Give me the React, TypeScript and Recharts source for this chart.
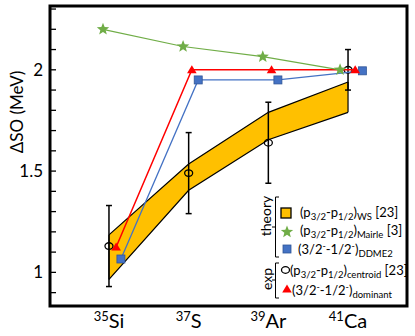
import React from 'react'
import {
  ComposedChart,
  XAxis,
  YAxis,
  Area,
  Scatter,
  ErrorBar,
  ReferenceArea,
  ReferenceLine,
} from 'recharts'

// nuclides on the x axis (index 0..3)
const masses = ['35', '37', '39', '41']
const elements = ['Si', 'S', 'Ar', 'Ca']
const nuclideX = [0, 1, 2, 3]

// theory: (p3/2-p1/2) WS band [23]
const wsLower = [0.965, 1.405, 1.655, 1.79]
const wsUpper = [1.185, 1.535, 1.79, 1.94]

// theory: Mairle [3]
const mairleX = [-0.075, 0.93, 1.93, 2.9]
const mairle = [2.2, 2.115, 2.065, 2.0]

// theory: DDME2
const ddme2X = [0.15, 1.12, 2.12, 3.18]
const ddme2 = [1.066, 1.95, 1.95, 1.995]

// exp: centroid [23] with errors
const centroid = [1.13, 1.49, 1.64, 2.0]
const centroidErr = [0.2, 0.2, 0.2, 0.1]

// exp: dominant
const dominantX = [0.09, 1.04, 2.04, 3.09]
const dominant = [1.125, 2.0, 2.0, 2.0]

const yTicks = [0.9, 1, 1.1, 1.2, 1.3, 1.4, 1.5, 1.6, 1.7, 1.8, 1.9, 2, 2.1, 2.2, 2.3]
const yLabels = [1, 1.5, 2]
const xTickMarks = [0, 1, 1.7, 2.7]

const X_DOMAIN: [number, number] = [-0.74, 3.74]
const Y_DOMAIN: [number, number] = [0.834, 2.315]
const FONT = 'Lato, "Open Sans", sans-serif'

const GREEN = '#70AD47'
const RED = '#FF0000'
const BLUE = '#4472C4'
const GOLD = '#FFC000'

const bandRows = nuclideX.map((x, i) => ({ x, range: [wsLower[i], wsUpper[i]] }))
const mairleRows = mairleX.map((x, i) => ({ x, y: mairle[i] }))
const ddme2Rows = ddme2X.map((x, i) => ({ x, y: ddme2[i] }))
const dominantRows = dominantX.map((x, i) => ({ x, y: dominant[i] }))
const centroidRows = nuclideX.map((x, i) => ({ x, y: centroid[i], err: centroidErr[i] }))

function starPoints(cx: number, cy: number, R: number, r: number) {
  const pts: string[] = []
  for (let k = 0; k < 10; k++) {
    const a = -Math.PI / 2 + (k * Math.PI) / 5
    const rad = k % 2 === 0 ? R : r
    pts.push(`${cx + rad * Math.cos(a)},${cy + rad * Math.sin(a)}`)
  }
  return pts.join(' ')
}

const Star = (p: any) => <polygon points={starPoints(p.cx, p.cy, 6.5, 2.8)} fill={GREEN} />
const Square = (p: any) => (
  <rect x={p.cx - 4} y={p.cy - 4} width={8} height={8} fill={BLUE} stroke='#2F5597' strokeWidth={0.8} />
)
const Triangle = (p: any) => (
  <polygon points={`${p.cx},${p.cy - 4.5} ${p.cx + 4.8},${p.cy + 3.5} ${p.cx - 4.8},${p.cy + 3.5}`} fill={RED} />
)
const Ring = (p: any) => (
  <ellipse cx={p.cx} cy={p.cy} rx={4} ry={3.3} fill='none' stroke='#000' strokeWidth={1.3} />
)

const NuclideTick = (p: any) => {
  const i = nuclideX.indexOf(p.payload.value)
  return (
    <text x={p.x} y={p.y + 14} textAnchor='middle' fontFamily={FONT} fill='#000'>
      <tspan fontSize={13} dy={-7}>{masses[i]}</tspan>
      <tspan fontSize={20} dy={7}>{elements[i]}</tspan>
    </text>
  )
}

const YTitle = () => (
  <text
    transform='translate(16.5,112) rotate(-90)'
    textAnchor='middle'
    dominantBaseline='central'
    fontFamily={FONT}
    fontSize={17}
    fill='#000'
  >
    ΔSO (MeV)
  </text>
)

const sub = (t: string) => (
  <tspan fontSize={9.5} dy={2.5}>
    {t}
  </tspan>
)
const back = (t: string) => <tspan dy={-2.5}>{t}</tspan>

function LegendBox() {
  const txt = { fontFamily: FONT, fontSize: 13, fill: '#000' }
  return (
    <svg width={415} height={336} style={{ position: 'absolute', left: 0, top: 0, pointerEvents: 'none' }}>
      <text transform='translate(265,216) rotate(-90)' textAnchor='middle' dominantBaseline='central' {...txt} fontSize={14}>
        theory
      </text>
      <path d='M279,197 H275.5 V257 H279 M275.5,227 H272' fill='none' stroke='#000' strokeWidth={1} />
      <text transform='translate(266,279) rotate(-90)' textAnchor='middle' dominantBaseline='central' {...txt} fontSize={14}>
        exp
      </text>
      <path d='M279,263 H275.5 V298 H279 M275.5,280 H272' fill='none' stroke='#000' strokeWidth={1} />

      <rect x={281} y={208} width={10} height={10} fill={GOLD} stroke='#000' strokeWidth={1.3} />
      <text x={300} y={217} {...txt}>
        (p{sub('3/2')}{back('-p')}{sub('1/2')}{back(')')}{sub('WS')}{back(' [23]')}
      </text>

      <Star cx={287} cy={232} />
      <text x={300} y={235} {...txt}>
        (p{sub('3/2')}{back('-p')}{sub('1/2')}{back(')')}{sub('Mairle')}{back(' [3]')}
      </text>

      <Square cx={287} cy={249} />
      <text x={298} y={254} {...txt}>
        (3/2<tspan fontSize={9} dy={-5}>-</tspan>
        <tspan dy={5}>-1/2</tspan>
        <tspan fontSize={9} dy={-5}>-</tspan>
        <tspan dy={5}>)</tspan>
        {sub('DDME2')}
      </text>

      <Ring cx={285.5} cy={270} />
      <text x={290} y={275} {...txt}>
        (p{sub('3/2')}{back('-p')}{sub('1/2')}{back(')')}{sub('centroid')}{back(' [23]')}
      </text>

      <Triangle cx={287} cy={289} />
      <text x={292} y={295} {...txt}>
        (3/2<tspan fontSize={9} dy={-5}>-</tspan>
        <tspan dy={5}>-1/2</tspan>
        <tspan fontSize={9} dy={-5}>-</tspan>
        <tspan dy={5}>)</tspan>
        {sub('dominant')}
      </text>
    </svg>
  )
}

export default function App() {
  return (
    <div style={{ position: 'absolute', left: 0, top: 0, width: 415, height: 336, background: '#fff' }}>
      <ComposedChart
        width={415}
        height={336}
        data={bandRows}
        margin={{ top: 6, right: 8, left: 0, bottom: 0 }}
      >
        <XAxis
          xAxisId='marks'
          dataKey='x'
          type='number'
          domain={X_DOMAIN}
          allowDataOverflow
          ticks={xTickMarks}
          mirror
          height={0}
          axisLine={false}
          tickSize={8}
          tickLine={{ stroke: '#000', strokeWidth: 1.3 }}
          tickFormatter={() => ''}
        />
        <XAxis
          xAxisId='cat'
          dataKey='x'
          type='number'
          domain={X_DOMAIN}
          allowDataOverflow
          ticks={nuclideX}
          height={30}
          axisLine={false}
          tickLine={false}
          tick={<NuclideTick />}
        />
        <YAxis
          dataKey='y'
          type='number'
          domain={Y_DOMAIN}
          allowDataOverflow
          ticks={yTicks}
          interval={0}
          width={50}
          axisLine={false}
          tickSize={-6}
          tickMargin={13}
          tickLine={{ stroke: '#000', strokeWidth: 1.3 }}
          tick={{ fill: '#000', fontSize: 17, fontFamily: FONT }}
          tickFormatter={(v: number) => (yLabels.includes(v) ? String(v) : '')}
          label={<YTitle />}
        />

        <Area
          xAxisId='cat'
          dataKey='range'
          type='linear'
          fill={GOLD}
          fillOpacity={1}
          stroke='#000'
          strokeWidth={1.2}
          dot={false}
          activeDot={false}
          isAnimationActive={false}
        />
        {[0, nuclideX.length - 1].map((i) => (
          <ReferenceLine
            key={i}
            xAxisId='cat'
            segment={[
              { x: nuclideX[i], y: wsLower[i] },
              { x: nuclideX[i], y: wsUpper[i] },
            ]}
            stroke='#000'
            strokeWidth={1.2}
          />
        ))}

        <Scatter
          xAxisId='cat'
          data={centroidRows}
          dataKey='y'
          shape={<Ring />}
          isAnimationActive={false}
        >
          <ErrorBar dataKey='err' direction='y' width={3} stroke='#000' strokeWidth={1.5} />
        </Scatter>
        <Scatter
          xAxisId='cat'
          data={ddme2Rows}
          dataKey='y'
          line={{ stroke: BLUE, strokeWidth: 1.3 }}
          shape={<Square />}
          isAnimationActive={false}
        />
        <Scatter
          xAxisId='cat'
          data={dominantRows}
          dataKey='y'
          line={{ stroke: RED, strokeWidth: 1.5 }}
          shape={<Triangle />}
          isAnimationActive={false}
        />
        <Scatter
          xAxisId='cat'
          data={mairleRows}
          dataKey='y'
          line={{ stroke: GREEN, strokeWidth: 1.2 }}
          shape={<Star />}
          isAnimationActive={false}
        />

        <ReferenceArea
          xAxisId='cat'
          x1={X_DOMAIN[0]}
          x2={X_DOMAIN[1]}
          y1={Y_DOMAIN[0]}
          y2={Y_DOMAIN[1]}
          fill='none'
          stroke='#000'
          strokeWidth={3}
          ifOverflow='visible'
        />
      </ComposedChart>
      <LegendBox />
    </div>
  )
}
